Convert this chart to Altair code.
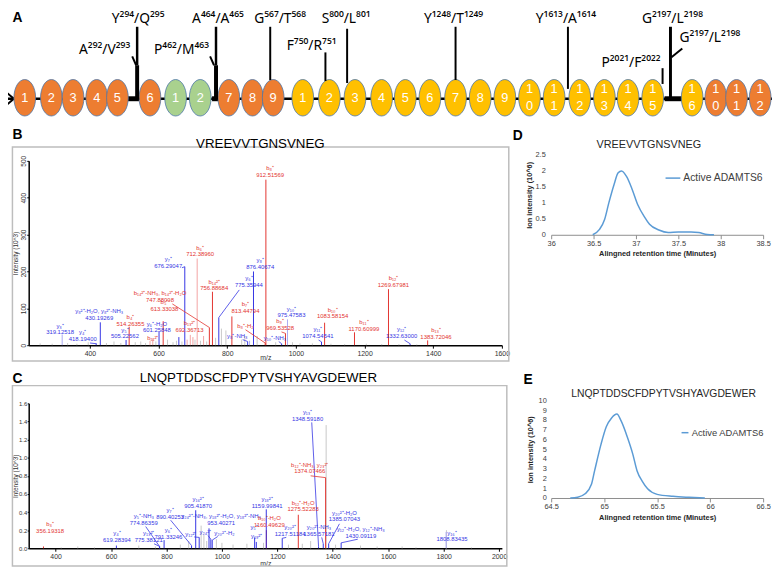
import altair as alt
import pandas as pd

FONT = "Liberation Sans"
SUPFONT = "Noto Sans"
RED, BLUE, LRED, LBLUE, GRAY = "#E3342F", "#3434E4", "#F3A3A3", "#A9A9F3", "#C8C8C8"
CLS_DOMAIN = ["b", "y", "lb", "ly", "g"]
CLS_RANGE = [RED, BLUE, LRED, LBLUE, GRAY]

panel_letters = ["A", "B", "C", "D", "E"]
seq_titles = ["VREEVVTGNSVNEG", "LNQPTDDSCFDPYTVSHYAVGDEWER"]

# ---------------- Panel A : domain schematic ----------------
dom_pos = [21, 48, 70, 94, 115, 148, 174, 199, 228, 252, 273, 303, 330, 356, 383, 407,
           432, 458, 483, 508, 533, 558, 584, 609, 633, 658, 698, 722, 743, 767]
dom_num = ["1", "2", "3", "4", "5", "6", "1", "2", "7", "8", "9", "1", "2", "3", "4", "5",
           "6", "7", "8", "9", "10", "11", "12", "13", "14", "15", "16", "10", "11", "12"]
dom_kind = (["orange"] * 6 + ["green"] * 2 + ["orange"] * 3 + ["yellow"] * 16 + ["orange"] * 3)
dom_colors = ["#ED7D31", "#A9D18E", "#FFC000"]

bb_start = [1, 125, 211, 670]
bb_end = [780, 137, 218, 688]
bb_weight = [2.5, 5, 5, 5]

arrow_pos = [0.5, 10, 0.5]
arrow_lvl = [8, 0, -8]

site_x1 = [135, 135, 130, 215, 215, 209, 270, 326, 348, 458, 572, 668, 676, 677]
site_h1 = [73, 34, 43, 73, 34, 43, 73, 47, 71, 73, 73, 31, 73, 42]
site_x2 = [135, 135, 134, 215, 215, 213, 270, 326, 348, 458, 572, 668, 676, 688]
site_h2 = [34, -1, 34, 34, -1, 34, 19, 18, 16, 19, 10, 15, -1, 51]
site_w = [2.5, 4, 2, 2.5, 4, 2, 2, 2, 2, 2, 2, 2, 3, 2]

site_lab = ["Y²⁹⁴/Q²⁹⁵", "A²⁹²/V²⁹³", "A⁴⁶⁴/A⁴⁶⁵", "P⁴⁶²/M⁴⁶³", "G⁵⁶⁷/T⁵⁶⁸", "F⁷⁵⁰/R⁷⁵¹",
            "S⁸⁰⁰/L⁸⁰¹", "Y¹²⁴⁸/T¹²⁴⁹", "Y¹⁶¹³/A¹⁶¹⁴", "P²⁰²¹/F²⁰²²", "G²¹⁹⁷/L²¹⁹⁸", "G²¹⁹⁷/L²¹⁹⁸"]
site_lab_x = [136, 102, 217, 180, 280, 312, 347, 456, 570, 636, 678, 716]
site_lab_h = [81, 49, 81, 49, 81, 53, 81, 81, 81, 36, 81, 62]

# ---------------- Panel B : VREEVVTGNSVNEG spectrum ----------------
b_pk_mz = [255, 290, 335, 362, 395, 448, 470, 490, 532, 548, 562, 575, 583, 592, 626, 642, 652, 668,
           683, 700, 706, 722, 731, 740, 766, 783, 796, 842, 851, 887, 941, 990, 1012, 1048, 1102,
           1142, 1205, 1250, 1300, 1352,
           319.13, 418.19, 430.19, 505.23, 514.26, 601.26, 613.33, 659, 676.29, 692.37, 712.39,
           747.88, 756.89, 775.36, 813.45, 859.4, 865, 876.41, 910.5, 912.52, 958.4, 969.54,
           975.48, 1074.55, 1083.58, 1170.61, 1269.68, 1332.63, 1383.72]
b_pk_int = [5, 4, 6, 4, 8, 6, 10, 6, 8, 10, 6, 12, 18, 10, 15, 8, 12, 10, 15, 22, 15, 12, 25, 10,
            20, 45, 40, 15, 25, 25, 8, 8, 5, 5, 4, 3, 4, 3, 3, 2,
            29, 5, 62, 14, 50, 36, 65, 22, 213, 28, 235, 48, 145, 75, 78, 10, 12, 200, 6, 449, 4,
            32, 70, 9, 61, 35, 152, 4, 13]
b_pk_cls = (["g"] * 11 + ["lb", "lb"] + ["g"] * 5 + ["lb", "lb"] + ["g", "g", "lb"] + ["g"] * 17
            + ["ly", "y", "y", "y", "b", "y", "b", "y", "y", "lb", "lb", "b", "b", "y", "b", "y",
               "ly", "y", "b", "b", "y", "b", "ly", "y", "b", "b", "b", "y", "b"])

b_lab_name = ["y₃⁺", "y₄⁺", "y₈²⁺-H₂O, y₈²⁺-NH₃", "b₄⁺", "y₅⁺", "y₆⁺-H₂O", "b₅⁺", "b₁₁²⁺", "b₁₃²⁺",
              "y₇⁺", "b₆⁺", "b₁₄²⁺-NH₃, b₁₄²⁺-H₂O", "b₁₄²⁺", "y₆⁺", "y₈⁺", "b₇⁺", "y₈⁺-NH₃",
              "b₈⁺-H₂", "y₁₀⁺-NH₃", "b₈⁺", "b₉⁺", "y₁₀⁺", "y₁₁⁺", "b₁₀⁺", "b₁₁⁺", "b₁₂⁺", "y₁₂⁺", "b₁₃⁺"]
b_lab_num = ["319.12518", "418.19400", "430.19269", "514.26355", "505.22562", "601.25848",
             "613.33038", "", "692.36713", "676.29047", "712.38960", "747.88098", "756.88684",
             "775.35944", "876.40674", "813.44794", "", "", "", "912.51569", "969.53528",
             "975.47583", "1074.54541", "1083.58154", "1170.60999", "1269.67981", "1332.63000",
             "1383.72046"]
b_lab_mz = [313, 379, 427, 518, 502, 595, 617, 583, 690, 628, 721, 604, 762, 863, 896, 853, 829,
            853, 939, 925, 954, 987, 1064, 1107, 1198, 1284, 1308, 1408]
b_lab_int = [27, 8.5, 67, 50, 15.5, 32, 90, 10.7, 33, 208, 238, 114, 146, 156, 204, 86, 17, 44,
             12, 454, 39, 73, 17, 70, 37, 155, 17, 15]
b_lab_cls = ["y", "y", "y", "b", "y", "y", "b", "b", "b", "y", "b", "b", "b", "y", "y", "b", "y",
             "b", "y", "b", "b", "y", "y", "b", "b", "b", "y", "b"]

b_ld_x1 = [400, 668, 640, 835, 845, 853, 950, 958, 1066, 1316]
b_ld_y1 = [6, 210, 112, 150, 15, 42, 10, 36, 14, 14]
b_ld_x2 = [418.19, 676.29, 747.88, 775.36, 859.4, 910.5, 958.4, 969.54, 1074.55, 1332.63]
b_ld_y2 = [4, 213, 48, 75, 10, 6, 4, 32, 9, 4]
b_ld_cls = ["y", "y", "b", "y", "y", "b", "y", "b", "y", "y"]

# ---------------- Panel C : LNQPTDDSCFDPYTVSHYAVGDEWER spectrum ----------------
c_pk_mz = [300, 420, 480, 540, 700, 760, 850, 880, 925, 935, 945, 980, 1000, 1040, 1090, 1150,
           1240, 1290, 1320, 1376, 1410, 1500, 1560, 1650, 1700, 1810, 1900,
           356.19, 619.28, 774.86, 775.38, 791.33, 890.40, 905.42, 918, 953.40, 960, 965, 1118,
           1124, 1160.5, 1160.0, 1217.51, 1275.52, 1348.59, 1365.57, 1374.07, 1385.07, 1430.09,
           1808.83]
c_pk_int = [0.01, 0.01, 0.02, 0.01, 0.03, 0.02, 0.04, 0.08, 0.25, 0.15, 0.08, 0.1, 0.06, 0.04,
            0.05, 0.06, 0.04, 0.05, 0.08, 1.36, 0.04, 0.03, 0.02, 0.02, 0.01, 0.2, 0.01,
            0.02, 0.03, 0.02, 0.02, 0.09, 0.03, 0.42, 0.12, 0.22, 0.10, 0.09, 0.12, 0.07, 0.2,
            0.43, 0.11, 0.37, 0.02, 0.05, 0.78, 0.05, 0.06, 0.18]
c_pk_cls = (["g"] * 27
            + ["b", "y", "y", "y", "y", "y", "y", "y", "y", "y", "y", "y", "y", "b", "y", "y",
               "b", "y", "y", "b", "y", "y", "ly"])

c_lab_name = ["b₃⁺", "y₄⁺", "y₁₃²⁺", "y₅⁺-NH₃", "y₆⁺", "y₇⁺", "y₁₆²⁺", "y₁₂²⁺",
              "y₂₄²⁺-NH₃, y₁₈²⁺-H₂O, y₁₈²⁺-NH₃", "y₂₄²⁺", "y₂₀²⁺-H₂", "y₅⁺", "y₁₉²⁺", "y₁₈²⁺",
              "b₁₀⁺-H₂O", "y₂₀²⁺", "b₁₂⁺-H₂O", "y₁₃⁺", "b₁₂⁺-NH₃, y₂₃²⁺", "y₂₀²⁺-NH₃",
              "y₂₀²⁺-H₂O", "y₁₂⁺-H₂O, y₁₂⁺-NH₃", "y₁₆⁺"]
c_lab_num = ["356.19318", "619.28394", "775.38121", "774.86359", "791.33246", "890.40253",
             "905.41870", "", "953.40271", "", "", "", "", "1159.99841", "1160.49629",
             "1217.51184", "1275.52283", "1348.59180", "1374.07466", "1365.57181", "1385.07043",
             "1430.09119", "1808.83435"]
c_lab_mz = [380, 621, 736, 718, 807, 813, 914, 888, 997, 940, 1009, 1116, 1125, 1163, 1171,
            1246, 1293, 1309, 1317, 1350, 1442, 1501, 1830]
c_lab_int = [0.157, 0.057, 0.057, 0.247, 0.097, 0.317, 0.437, 0.127, 0.247, 0.147, 0.137,
             0.197, 0.107, 0.437, 0.227, 0.127, 0.397, 1.397, 0.817, 0.127, 0.287, 0.102, 0.067]
c_lab_cls = ["b", "y", "y", "y", "y", "y", "y", "y", "y", "y", "y", "y", "y", "y", "b", "y",
             "b", "y", "b", "y", "y", "y", "y"]

c_ld_x1 = [755, 725, 815, 900, 950, 985, 1232, 1324, 1320, 1360, 1424, 1490]
c_ld_y1 = [0.05, 0.24, 0.31, 0.125, 0.14, 0.13, 0.12, 1.39, 0.80, 0.12, 0.27, 0.10]
c_ld_x2 = [775.38, 774.86, 890.40, 918, 960, 965, 1217.51, 1348.59, 1374.07, 1365.57, 1385.07,
           1430.09]
c_ld_y2 = [0.02, 0.02, 0.03, 0.12, 0.10, 0.09, 0.11, 0.02, 0.78, 0.05, 0.05, 0.06]
c_ld_cls = ["y", "y", "y", "y", "y", "y", "y", "y", "b", "y", "y", "y"]

# ---------------- Panels D, E : extracted ion chromatograms ----------------
series_name = "Active ADAMTS6"
d_time = [36.49, 36.57, 36.63, 36.68, 36.74, 36.79, 36.83, 36.89, 36.95, 37.02, 37.10, 37.16,
          37.27, 37.38, 37.50, 37.65, 37.74, 37.84, 37.92]
d_int = [0.0, 0.17, 0.48, 1.0, 1.56, 1.94, 2.0, 1.82, 1.46, 0.95, 0.56, 0.33, 0.15, 0.07, 0.09,
         0.09, 0.07, 0.01, 0.0]
e_time = [64.68, 64.75, 64.82, 64.88, 64.91, 64.97, 65.02, 65.07, 65.12, 65.16, 65.22, 65.27,
          65.31, 65.36, 65.41, 65.50, 65.65, 65.80, 65.95]
e_int = [0.0, 0.08, 0.43, 1.4, 2.8, 5.5, 7.3, 8.2, 8.6, 7.9, 6.2, 4.5, 2.8, 1.7, 0.94, 0.37, 0.17,
         0.07, 0.0]

# =====================================================================
CLS = alt.Scale(domain=CLS_DOMAIN, range=CLS_RANGE)


def one(text):
    return pd.DataFrame({"t": [text]})


def txt(text, x, y, size, weight="normal", align="center", color="black"):
    return alt.Chart(one(text)).mark_text(
        fontSize=size, fontWeight=weight, align=align, baseline="middle", color=color, font=FONT
    ).encode(text="t:N", x=alt.value(x), y=alt.value(y))


# ---- A ----
XA = alt.Scale(domain=[18, 505])
YA = alt.Scale(domain=[-4, 96])
ELL = "M -0.595 0 A 0.595 1 0 1 1 0.595 0 A 0.595 1 0 1 1 -0.595 0 Z"

dom_df = pd.DataFrame({"pos": dom_pos, "kind": dom_kind})
dom_df["lvl"] = 1
num_rows = []
for p, s in zip(dom_pos, dom_num):
    if len(s) == 1:
        num_rows.append((p, 1, s))
    else:
        num_rows.append((p, 9.5, s[0]))
        num_rows.append((p, -7.5, s[1]))
num_df = pd.DataFrame(num_rows, columns=["pos", "lvl", "t"])

bb_df = pd.DataFrame({"s": bb_start, "e": bb_end, "w": bb_weight})
bb_df["lvl"] = 0
arrow_df = pd.DataFrame({"pos": arrow_pos, "lvl": arrow_lvl, "o": list(range(len(arrow_pos)))})
site_df = pd.DataFrame({"x1": site_x1, "h1": site_h1, "x2": site_x2, "h2": site_h2, "w": site_w})
slab_df = pd.DataFrame({"x": site_lab_x, "h": site_lab_h, "t": site_lab})

backbone = alt.Chart(bb_df).mark_rule(color="black", strokeCap="butt").encode(
    x=alt.X("s:Q", scale=XA, axis=None), x2="e:Q",
    y=alt.Y("lvl:Q", scale=YA, axis=None),
    strokeWidth=alt.StrokeWidth("w:Q", scale=None))
arrow = alt.Chart(arrow_df).mark_line(color="black", strokeWidth=2).encode(
    x=alt.X("pos:Q", scale=XA, axis=None), y=alt.Y("lvl:Q", scale=YA, axis=None), order="o:Q")
ellipses = alt.Chart(dom_df).mark_point(
    shape=ELL, size=1369, filled=True, opacity=1, stroke="#4A74A8", strokeWidth=0.8
).encode(
    x=alt.X("pos:Q", scale=XA, axis=None), y=alt.Y("lvl:Q", scale=YA, axis=None),
    fill=alt.Fill("kind:N", scale=alt.Scale(domain=["orange", "green", "yellow"], range=dom_colors),
                  legend=None))
nums = alt.Chart(num_df).mark_text(color="white", fontSize=13, font=FONT, baseline="middle").encode(
    x=alt.X("pos:Q", scale=XA, axis=None), y=alt.Y("lvl:Q", scale=YA, axis=None), text="t:N")
sites = alt.Chart(site_df).mark_rule(color="black", strokeCap="butt").encode(
    x=alt.X("x1:Q", scale=XA, axis=None), y=alt.Y("h1:Q", scale=YA, axis=None),
    x2="x2:Q", y2="h2:Q", strokeWidth=alt.StrokeWidth("w:Q", scale=None))
site_text = alt.Chart(slab_df).mark_text(fontSize=14, font=SUPFONT, color="black", baseline="middle").encode(
    x=alt.X("x:Q", scale=XA, axis=None), y=alt.Y("h:Q", scale=YA, axis=None), text="t:N")

panel_a = alt.layer(
    backbone, arrow, ellipses, nums, sites, site_text,
    txt(panel_letters[0], -9.5, 14.5, 14, "bold", "left")
).properties(width=487, height=100)


# ---- spectra helper ----
def spectrum(pk_mz, pk_int, pk_cls, lab_name, lab_num, lab_mz, lab_int, lab_cls,
             ld_x1, ld_y1, ld_x2, ld_y2, ld_cls, xs, ys, ax_x, ax_y, height, frame,
             title, tx, ty, letter, ly):
    pk = pd.DataFrame({"mz": pk_mz, "int": pk_int, "cls": pk_cls})
    pk["zero"] = 0
    lab = pd.DataFrame({"x": lab_mz, "y": lab_int, "cls": lab_cls, "name": lab_name, "num": lab_num})
    has_num = lab["num"] != ""
    num_part = lab[has_num].assign(t=lab.loc[has_num, "num"])
    name_up = lab[has_num].assign(t=lab.loc[has_num, "name"])
    name_only = lab[~has_num].assign(t=lab.loc[~has_num, "name"])
    ld = pd.DataFrame({"x1": ld_x1, "y1": ld_y1, "x2": ld_x2, "y2": ld_y2, "cls": ld_cls})
    box = alt.Chart(one("")).mark_rect(fill="transparent", stroke="#BDBDBD", strokeWidth=1.5).encode(
        x=alt.value(frame[0]), x2=alt.value(frame[1]), y=alt.value(frame[2]), y2=alt.value(frame[3]))
    peaks = alt.Chart(pk).mark_rule(strokeWidth=1).encode(
        x=alt.X("mz:Q", scale=xs, axis=ax_x), y=alt.Y("int:Q", scale=ys, axis=ax_y), y2="zero:Q",
        color=alt.Color("cls:N", scale=CLS, legend=None))
    leaders = alt.Chart(ld).mark_rule(strokeWidth=0.8).encode(
        x=alt.X("x1:Q", scale=xs, axis=ax_x), y=alt.Y("y1:Q", scale=ys, axis=ax_y),
        x2="x2:Q", y2="y2:Q", color=alt.Color("cls:N", scale=CLS, legend=None))

    def labels(df, dy):
        return alt.Chart(df).mark_text(
            fontSize=6, font=FONT, baseline="bottom", align="center", dy=dy
        ).encode(x=alt.X("x:Q", scale=xs, axis=ax_x), y=alt.Y("y:Q", scale=ys, axis=ax_y),
                 text="t:N", color=alt.Color("cls:N", scale=CLS, legend=None))

    return alt.layer(
        box, peaks, leaders, labels(num_part, 0), labels(name_up, -6.8), labels(name_only, 0),
        txt(title, tx, ty, 13.5),
        txt(letter, -9.5, ly, 14, "bold", "left")
    ).properties(width=487, height=height)


AX_COMMON = dict(grid=False, titleFontWeight="normal", tickColor="black", domainColor="black",
                 domainWidth=1.5, labelColor="#333333", titleColor="#333333",
                 labelFont=FONT, titleFont=FONT)

XB = alt.Scale(domain=[221.6, 1600], range=[7, 487])
YB = alt.Scale(domain=[0, 500])
axb_x = alt.Axis(values=[400, 600, 800, 1000, 1200, 1400, 1600], format="d", title="m/z",
                 labelFlush=False, labelFontSize=7, titleFontSize=7, tickSize=3, labelPadding=1.5,
                 titlePadding=-3, **AX_COMMON)
axb_y = alt.Axis(values=[0, 100, 200, 300, 400, 500], format="d", title="Intensity (10^3)",
                 labelAngle=270, labelAlign="center", labelBaseline="bottom", labelFontSize=6.5,
                 titleFontSize=6.5, tickSize=2, labelPadding=0.5, titlePadding=1.5, offset=-7,
                 **AX_COMMON)

XC = alt.Scale(domain=[302.9, 2010], range=[7, 487])
YC = alt.Scale(domain=[0, 1.6])
axc_x = alt.Axis(values=[400, 600, 800, 1000, 1200, 1400, 1600, 1800, 2000], format="d",
                 title="m/z", labelFlush=False, labelFontSize=7, titleFontSize=7, tickSize=3,
                 labelPadding=1, titlePadding=0, **AX_COMMON)
axc_y = alt.Axis(values=[0, 0.2, 0.4, 0.6, 0.8, 1.0, 1.2, 1.4, 1.6], format=".1f",
                 title="Intensity (10^3)", labelFontSize=6, titleFontSize=6.5, tickSize=1.5,
                 labelPadding=0.5, titlePadding=0, offset=-7, **AX_COMMON)

panel_b = spectrum(b_pk_mz, b_pk_int, b_pk_cls, b_lab_name, b_lab_num, b_lab_mz, b_lab_int,
                   b_lab_cls, b_ld_x1, b_ld_y1, b_ld_x2, b_ld_y2, b_ld_cls, XB, YB, axb_x, axb_y,
                   187, (-9.5, 494, -14, 203), seq_titles[0], 242, -17, panel_letters[1], -26)
panel_c = spectrum(c_pk_mz, c_pk_int, c_pk_cls, c_lab_name, c_lab_num, c_lab_mz, c_lab_int,
                   c_lab_cls, c_ld_x1, c_ld_y1, c_ld_x2, c_ld_y2, c_ld_cls, XC, YC, axc_x, axc_y,
                   147, (-9.5, 492, -18, 165), seq_titles[1], 240, -26, panel_letters[2], -25)


# ---- chromatograms ----
def chrom(times, vals, xs, ys, xvals, yvals, yfmt, w, h, lab_size, leg_size, lx, ly, sym,
          title, tx, ty, tsize, letter, lxx, lyy, lpad, tpad_y, tpad_x):
    df = pd.DataFrame({"t": times, "v": vals})
    df["s"] = series_name
    ax_x = alt.Axis(values=xvals, format="~g", title="Alingned retention time (Minutes)",
                    titleFontWeight="bold", titleFontSize=7.5, labelFontSize=lab_size, tickSize=4,
                    tickColor="#8C8C8C", domainColor="#8C8C8C", domainWidth=1, labelPadding=0.5,
                    titlePadding=tpad_x, grid=False, labelFlush=False, labelColor="#404040",
                    titleColor="#262626", labelFont=FONT, titleFont=FONT)
    ax_y = alt.Axis(values=yvals, format=yfmt, title="Ion intensity (10^6)", domain=False,
                    ticks=False, tickSize=0, labelPadding=lpad, labelFontSize=lab_size,
                    titleFontSize=7.5, titleFontWeight="bold", titlePadding=tpad_y, grid=False,
                    labelColor="#404040", titleColor="#262626", labelFont=FONT, titleFont=FONT)
    leg = alt.Legend(orient="none", legendX=lx, legendY=ly, title=None, symbolType="stroke",
                     symbolSize=sym, symbolStrokeWidth=1.5, labelFontSize=leg_size,
                     labelColor="#404040", padding=0, labelOffset=2, labelFont=FONT)
    line = alt.Chart(df).mark_line(strokeWidth=1.5, interpolate="monotone").encode(
        x=alt.X("t:Q", scale=xs, axis=ax_x), y=alt.Y("v:Q", scale=ys, axis=ax_y),
        color=alt.Color("s:N", scale=alt.Scale(domain=[series_name], range=["#5B9BD5"]), legend=leg))
    return alt.layer(line, txt(title, tx, ty, tsize, color="#262626"),
                     txt(letter, lxx, lyy, 14, "bold", "left")).properties(width=w, height=h)


panel_d = chrom(d_time, d_int, alt.Scale(domain=[36, 38.5]), alt.Scale(domain=[0, 2.5], range=[75, -6]),
                [36, 36.5, 37, 37.5, 38, 38.5], [0, 0.5, 1, 1.5, 2, 2.5], "~g", 215, 75, 7.5, 10.5,
                115, 9, 225, seq_titles[0], 99, -16, 11, panel_letters[3], -39, -25, 6, 1.75, 3.5)
panel_e = chrom(e_time, e_int, alt.Scale(domain=[64.5, 66.5]), alt.Scale(domain=[0, 10], range=[96, -3]),
                [64.5, 65, 65.5, 66, 66.5], list(range(0, 11)), "d", 215, 96, 7.5, 9.5,
                131, 25, 49, seq_titles[1], 114, -9, 10.5, panel_letters[4], -28, -24, 5, 3.25, 4)

blank = alt.Chart(one("")).mark_text().encode(
    text="t:N", x=alt.value(0), y=alt.value(50)).properties(width=1, height=1)

chart = alt.concat(
    panel_a, blank, panel_b, panel_d, panel_c, panel_e,
    columns=2, spacing={"row": 59, "column": 50}, bounds="flush", align="each"
).resolve_scale(color="independent").properties(
    padding={"left": -8, "top": -8, "right": -3, "bottom": 0}
).configure_view(strokeWidth=0).configure_text(font=FONT)

chart.save("out.html", embed_options={"renderer": "svg", "actions": False})
